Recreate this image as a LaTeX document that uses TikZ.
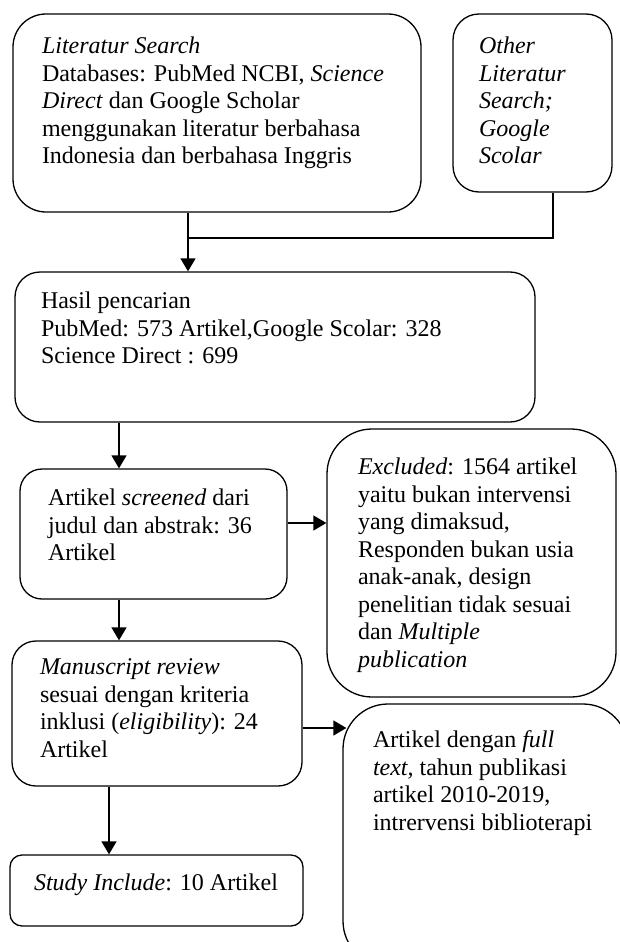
\documentclass[tikz,border=0pt]{standalone}
\usepackage{fontspec}
\setmainfont{Liberation Serif}
\usetikzlibrary{arrows.meta,calc}

\newcommand{\boxtext}[3]{\parbox[c][#2][t]{#1}{\raggedright #3}}

\begin{document}
\begin{tikzpicture}[x=1pt, y=-1pt, line width=1.3pt, >={Triangle[width=15pt,length=13pt]},
    font=\fontsize{24}{27.5}\selectfont,
    flowbox/.style={draw=black, inner sep=0pt}]
  \useasboundingbox (0,0) rectangle (619,942);

  % search boxes
  \node[flowbox, rounded corners=33pt, inner xsep=29pt, inner ysep=23pt] (lit) at (217,113)
    {\boxtext{350pt}{152pt}{\textit{Literatur Search}\\
      Databases: PubMed NCBI, \textit{Science}\\
      \textit{Direct} dan Google Scholar\\
      menggunakan literatur berbahasa\\
      Indonesia dan berbahasa Inggris}};
  \node[flowbox, rounded corners=26pt, inner xsep=26pt, inner ysep=23pt] (other) at (532.5,103)
    {\boxtext{107pt}{132pt}{\textit{Other}\\ \textit{Literatur}\\ \textit{Search;}\\ \textit{Google}\\ \textit{Scolar}}};

  \node[flowbox, rounded corners=25pt, inner xsep=26pt, inner ysep=20pt] (hasil) at (275,347)
    {\boxtext{468pt}{110pt}{Hasil pencarian\\
      PubMed: 573 Artikel,Google Scolar: 328\\
      Science Direct : 699}};

  % screening
  \node[flowbox, rounded corners=22pt, inner xsep=28pt, inner ysep=20pt] (screen) at (153.5,534)
    {\boxtext{211pt}{90pt}{Artikel \textit{screened} dari\\
      judul dan abstrak: 36\\
      Artikel}};
  \node[flowbox, rounded corners=45pt, inner xsep=31pt, inner ysep=29pt] (excl) at (471.5,563)
    {\boxtext{227pt}{210pt}{\textit{Excluded}: 1564 artikel\\
      yaitu bukan intervensi\\
      yang dimaksud,\\
      Responden bukan usia\\
      anak-anak, design\\
      penelitian tidak sesuai\\
      dan \textit{Multiple}\\
      \textit{publication}}};

  % eligibility
  \node[flowbox, rounded corners=24pt, inner xsep=28pt, inner ysep=18pt] (manu) at (157,713.5)
    {\boxtext{234pt}{109pt}{\textit{Manuscript review}\\
      sesuai dengan kriteria\\
      inklusi (\textit{eligibility}): 24\\
      Artikel}};
  \node[flowbox, rounded corners=45pt, inner xsep=30pt, inner ysep=27pt] (full) at (485.5,835)
    {\boxtext{225pt}{208pt}{Artikel dengan \textit{full}\\
      \textit{text,} tahun publikasi\\
      artikel 2010-2019,\\
      intrervensi biblioterapi}};

  \node[flowbox, rounded corners=12pt, inner xsep=24pt, inner ysep=19pt] (study) at (156.5,890.5)
    {\boxtext{245pt}{33pt}{\textit{Study Include}: 10 Artikel}};

  % connectors
  \coordinate (join) at (188,238);
  \draw[->] (lit.south -| join) -- (hasil.north -| join);
  \draw ([xshift=20.5pt]other.south) |- (join);
  \draw[->] (hasil.south -| 119,0) -- (screen.north -| 119,0);
  \draw[->] (screen.east |- 0,523) -- (excl.west |- 0,523);
  \draw[->] (screen.south -| 119,0) -- (manu.north -| 119,0);
  \draw[->] (manu.east |- 0,728) -- ([xshift=4pt]full.west |- 0,728);
  \draw[->] (manu.south -| 109,0) -- (study.north -| 109,0);
\end{tikzpicture}
\end{document}
